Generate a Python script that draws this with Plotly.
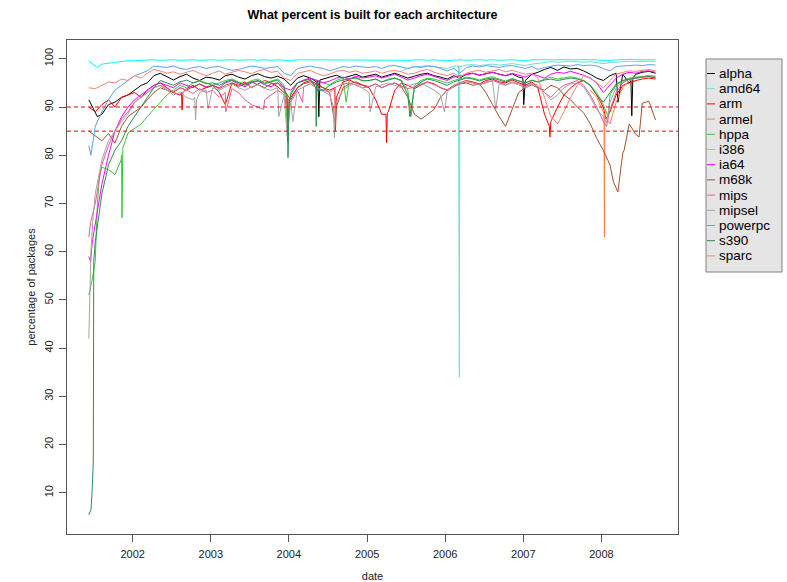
import pandas as pd
import plotly.graph_objects as go

# =========================================================
# Data: percentage of packages built, one value per month (10th),
# plus extra readings where a series spikes between two months
# =========================================================
ARCHES = ["alpha", "amd64", "arm", "armel", "hppa", "i386", "ia64",
          "m68k", "mips", "mipsel", "powerpc", "s390", "sparc"]
COLOURS = ["#000000", "#6FDDD0", "#FF0000", "#FF7F3F", "#33CC33", "#00FFFF", "#FF00FF",
           "#A0522D", "#E0609A", "#A8A0A8", "#5FA0E8", "#2E8B57", "#FA8072"]

START = {"amd64": "2005-06-10", "armel": "2007-11-10"}
DEFAULT_START = "2001-06-10"

alpha = [91.5, 89.0, 88.5, 90.5, 91.0, 92.0, 92.5,
         93.5, 94.5, 95.0, 96.5, 97.0, 96.2, 95.6, 96.3, 96.8, 96.0, 95.5, 96.2,
         96.0, 95.6, 96.5, 96.8, 96.2, 95.8, 96.5, 96.9, 96.3, 96.0, 96.4, 95.8,
         94.5, 96.0, 96.5, 96.0, 95.2, 95.8, 96.3, 96.6, 96.0, 96.4, 96.8, 96.2,
         96.5, 96.8, 96.2, 96.6, 97.0, 96.5, 96.0, 96.4, 96.8, 97.0, 96.5, 96.2,
         95.8, 96.5, 96.0, 96.8, 97.0, 96.6, 96.9, 97.2, 96.8, 96.5, 96.9, 96.2,
         95.5, 96.8, 97.2, 97.8, 98.2, 97.6, 98.3, 97.9, 98.0, 97.5, 96.8, 96.0,
         95.5, 96.5, 97.0, 96.8, 95.0, 96.8, 97.2, 97.4, 97.0]
amd64 = [97.5, 98.0, 98.3, 98.5, 98.6, 98.4, 98.2,
         98.0, 98.5, 98.6, 98.7, 98.8, 98.6, 98.8, 98.9, 98.7, 98.8, 99.0, 98.8,
         98.6, 98.9, 99.1, 99.3, 99.4, 99.3, 99.4, 99.5, 99.4, 99.3, 99.4, 99.2,
         99.0, 99.2, 99.3, 99.4, 99.5, 99.4, 99.5, 99.5, 99.4]
arm = [90.0, 89.0, 90.5, 91.5, 90.0, 92.0, 92.5,
       93.0, 92.0, 93.5, 94.5, 95.0, 94.0, 93.0, 92.5, 93.8, 94.5, 93.5, 94.0,
       94.5, 93.0, 90.5, 95.0, 94.5, 95.2, 94.0, 94.8, 95.5, 95.0, 94.2, 93.0,
       92.0, 94.0, 95.0, 95.5, 94.8, 94.0, 93.5, 92.0, 95.2, 95.6, 95.0, 94.5,
       94.0, 91.5, 88.5, 89.0, 93.5, 95.0, 94.5, 93.8, 94.6, 95.2, 94.8, 94.0,
       93.5, 94.5, 95.0, 95.5, 95.2, 94.8, 95.5, 95.8, 95.2, 95.0, 95.6, 95.0,
       94.5, 95.2, 94.0, 88.5, 87.0, 90.0, 92.5, 94.0, 95.0, 95.5, 94.5, 92.5,
       90.0, 89.0, 92.5, 94.5, 95.0, 95.5, 95.8, 96.0, 95.8]
armel = [93.5, 92.0, 89.0, 86.5, 91.0, 94.0, 95.5, 96.0, 96.3, 96.5, 96.4]
hppa = [51.0, 58.0, 77.5, 77.0, 76.0, 80.0, 84.6,
        85.5, 86.5, 88.0, 89.5, 91.0, 92.5, 93.5, 94.5, 94.0, 95.0, 95.5, 95.0,
        94.5, 95.0, 95.5, 95.8, 95.2, 94.8, 95.5, 95.8, 95.0, 95.4, 95.8, 94.5,
        93.0, 95.0, 95.5, 96.0, 95.6, 95.0, 94.6, 95.5, 96.0, 95.8, 96.2, 95.5,
        95.5, 95.8, 95.2, 95.8, 96.0, 95.6, 93.5, 94.5, 95.5, 96.0, 95.8, 95.4,
        95.0, 95.5, 95.8, 96.2, 96.0, 95.6, 96.0, 96.3, 95.8, 95.4, 95.9, 95.5,
        95.0, 95.6, 95.2, 95.8, 96.2, 95.8, 96.0, 96.3, 96.0, 95.5, 94.5, 93.0,
        90.5, 92.5, 94.5, 95.5, 96.0, 96.2, 96.4, 96.5, 96.3]
i386 = [99.5, 98.6, 98.9, 99.1, 99.3, 99.5, 99.6,
        99.6, 99.7, 99.8, 99.8, 99.7, 99.8, 99.8, 99.7, 99.8, 99.8, 99.7, 99.8,
        99.8, 99.7, 99.8, 99.8, 99.7, 99.8, 99.8, 99.7, 99.8, 99.7, 99.8, 99.7,
        99.6, 99.8, 99.8, 99.7, 99.8, 99.8, 99.7, 99.8, 99.8, 99.7, 99.8, 99.8,
        99.7, 99.8, 99.8, 99.7, 99.8, 99.7, 99.6, 99.8, 99.8, 99.7, 99.8, 99.7,
        99.6, 99.7, 99.8, 99.7, 99.8, 99.8, 99.7, 99.8, 99.7, 99.8, 99.8, 99.7,
        99.6, 99.8, 99.8, 99.9, 99.8, 99.9, 99.8, 99.9, 99.8, 99.9, 99.8, 99.8,
        99.6, 99.7, 99.8, 99.8, 99.9, 99.8, 99.8, 99.9, 99.8]
ia64 = [59.0, 66.0, 74.0, 80.0, 85.0, 88.0, 90.0,
        91.5, 92.5, 93.5, 94.5, 95.0, 94.5, 94.0, 95.0, 94.5, 94.0, 94.8, 94.2,
        94.5, 94.0, 95.0, 95.5, 94.8, 94.2, 95.0, 95.4, 94.6, 94.2, 95.0, 94.0,
        93.5, 95.0, 95.6, 96.0, 95.5, 95.0, 95.4, 96.0, 96.2, 95.8, 96.4, 96.0,
        96.2, 96.5, 96.0, 96.4, 96.8, 96.2, 95.6, 96.0, 96.5, 96.8, 96.4, 96.0,
        95.5, 96.2, 96.5, 96.8, 97.0, 96.6, 96.9, 97.2, 96.8, 96.5, 97.0, 96.6,
        96.2, 96.8, 96.5, 96.0, 96.8, 97.2, 97.0, 97.4, 97.0, 96.6, 96.0, 95.0,
        93.0, 94.5, 96.0, 96.8, 97.2, 97.0, 97.4, 97.5, 97.2]
m68k = [85.0, 84.0, 83.0, 84.5, 82.5, 86.0, 88.0,
        89.0, 90.0, 91.5, 93.0, 94.0, 93.5, 93.0, 94.0, 93.5, 94.2, 94.8, 94.0,
        94.5, 93.8, 94.5, 95.0, 94.2, 94.8, 95.2, 94.6, 94.0, 94.8, 95.0, 93.5,
        91.5, 94.0, 94.8, 95.2, 94.5, 94.0, 93.0, 90.0, 94.0, 94.8, 95.2, 94.6,
        94.2, 94.8, 94.0, 94.6, 95.0, 94.2, 92.0, 88.5, 87.5, 88.5, 89.5, 92.0,
        93.5, 94.2, 94.8, 95.0, 94.5, 94.8, 93.0, 90.5, 88.0, 86.0, 89.5, 93.0,
        94.0, 94.6, 94.0, 93.5, 94.5, 94.0, 92.5, 91.5, 90.0, 88.8, 86.5, 83.5,
        81.0, 78.0, 73.0, 80.5, 86.5, 84.3, 90.8, 91.2, 87.3]
mips = [63.0, 70.0, 78.0, 82.0, 85.0, 87.5, 89.0,
        91.0, 92.0, 93.0, 94.0, 94.5, 93.8, 93.2, 94.0, 93.5, 92.8, 93.8, 93.0,
        93.5, 92.0, 93.0, 93.8, 93.0, 91.5, 90.5, 90.0, 91.5, 92.5, 93.5, 92.5,
        91.0, 93.5, 94.2, 94.8, 94.0, 93.5, 93.0, 94.2, 94.8, 95.0, 94.5, 94.0,
        94.2, 94.8, 94.0, 94.6, 95.0, 94.4, 93.8, 94.2, 94.8, 95.2, 94.6, 94.0,
        93.5, 94.2, 94.8, 95.2, 95.0, 94.6, 95.2, 95.5, 95.0, 94.6, 95.2, 94.8,
        94.2, 95.0, 94.5, 93.0, 92.0, 93.5, 94.5, 95.0, 95.5, 94.5, 92.5, 90.0,
        87.0, 89.5, 93.0, 95.0, 95.8, 96.0, 96.2, 96.4, 96.0]
mipsel = [42.0, 72.0, 79.0, 83.0, 85.0, 87.0, 88.5,
          91.0, 92.0, 93.0, 94.0, 94.5, 93.5, 92.5, 93.0, 92.0, 91.5, 93.0, 93.5,
          94.0, 93.5, 94.2, 94.8, 94.0, 93.5, 94.2, 94.6, 93.8, 93.5, 94.0, 92.5,
          91.0, 93.5, 94.2, 94.8, 94.0, 93.2, 92.5, 91.0, 93.5, 94.5, 94.8, 94.0,
          93.0, 94.2, 94.6, 95.0, 94.5, 94.0, 94.4, 94.8, 95.0, 94.2, 93.5, 92.5,
          93.0, 94.5, 95.0, 95.4, 95.0, 94.6, 95.0, 95.4, 94.8, 94.5, 95.0, 94.6,
          94.0, 94.8, 94.2, 93.0, 91.5, 92.5, 94.0, 94.8, 95.0, 94.2, 92.0, 89.5,
          88.0, 91.0, 94.0, 95.2, 95.8, 96.0, 96.2, 96.4, 96.2]
powerpc = [82.0, 86.0, 89.0, 91.5, 93.5, 94.5, 95.5,
           96.5, 97.0, 97.5, 98.5, 98.3, 98.2, 98.5, 98.0, 97.8, 98.2, 98.4, 98.0,
           98.3, 98.4, 98.0, 97.6, 97.8, 98.2, 98.5, 98.3, 98.0, 98.2, 98.4, 97.0,
           96.5, 98.0, 98.3, 98.5, 98.2, 98.0, 97.5, 98.0, 98.4, 98.2, 98.5, 98.3,
           98.2, 98.4, 98.0, 98.5, 98.6, 98.3, 98.0, 98.4, 98.2, 98.5, 98.4, 98.0,
           97.5, 98.0, 97.0, 98.2, 98.5, 98.3, 98.6, 98.4, 98.2, 98.5, 98.6, 98.3,
           98.0, 98.4, 97.8, 98.2, 98.5, 98.7, 98.6, 98.5, 98.8, 98.6, 98.7, 98.5,
           98.0, 97.5, 98.4, 98.5, 98.6, 98.7, 98.6, 98.8, 98.7]
s390 = [5.4, 62.0, 72.0, 78.0, 81.0, 83.0, 86.0,
        88.0, 90.0, 92.0, 94.0, 95.5, 95.0, 94.5, 95.2, 95.6, 95.0, 95.4, 94.8,
        95.0, 94.5, 95.2, 95.6, 95.0, 94.5, 95.2, 95.5, 94.8, 95.2, 95.6, 94.0,
        92.5, 95.0, 95.4, 95.8, 95.2, 93.5, 94.5, 95.2, 95.6, 95.8, 96.0, 95.4,
        95.5, 95.8, 95.2, 95.6, 96.0, 95.4, 92.5, 94.0, 95.2, 95.8, 95.5, 95.0,
        94.5, 95.2, 95.6, 96.0, 95.8, 95.4, 95.8, 96.0, 95.6, 95.2, 95.8, 95.4,
        95.0, 95.5, 95.2, 95.6, 95.8, 95.5, 95.8, 96.0, 95.8, 95.4, 94.5, 92.5,
        91.0, 93.0, 94.8, 95.5, 95.8, 96.0, 96.2, 96.3, 96.0]
sparc = [94.0, 93.8, 94.5, 95.2, 95.0, 95.8, 95.5,
         96.5, 96.0, 97.0, 97.8, 97.5, 97.0, 97.3, 96.8, 97.2, 97.6, 97.0, 96.5,
         97.0, 97.5, 96.8, 97.2, 97.6, 97.3, 96.9, 97.5, 97.8, 97.2, 97.4, 96.0,
         95.5, 97.0, 97.3, 97.6, 97.0, 96.5, 96.8, 97.4, 97.6, 97.2, 97.5, 97.0,
         97.2, 97.5, 97.0, 97.4, 97.6, 97.3, 96.8, 97.0, 97.5, 97.8, 97.2, 96.8,
         96.5, 97.0, 96.2, 97.0, 97.4, 97.6, 97.2, 97.5, 97.8, 97.3, 97.6, 97.2,
         96.8, 97.0, 96.0, 92.0, 88.0, 86.5, 89.0, 92.0, 94.5, 96.5, 96.0, 95.0,
         94.0, 95.5, 96.8, 97.2, 97.5, 97.4, 97.6, 97.8, 97.5]

EXTRA = {
    "alpha": [("2001-07-20", 88.0), ("2004-05-16", 95.5), ("2004-05-20", 88.0), ("2004-05-25", 95.6),
              ("2006-12-30", 96.0), ("2007-01-03", 90.5), ("2008-03-18", 91.0),
              ("2008-05-18", 95.5), ("2008-05-22", 88.2), ("2008-05-27", 96.0)],
    "amd64": [("2006-03-04", 98.5), ("2006-03-08", 34.0), ("2006-03-11", 98.4)],
    "arm": [("2002-08-17", 93.0), ("2002-08-20", 89.4), ("2002-08-24", 93.0),
            ("2003-12-22", 92.5), ("2003-12-27", 82.8), ("2004-01-02", 91.5),
            ("2004-08-03", 94.0), ("2004-08-06", 85.0),
            ("2005-03-30", 88.5), ("2005-04-02", 82.6), ("2005-04-05", 88.8),
            ("2007-05-03", 86.0), ("2007-05-05", 83.8), ("2007-05-08", 86.5), ("2008-01-22", 87.5)],
    "armel": [("2008-01-13", 88.5), ("2008-01-15", 63.0), ("2008-01-17", 88.0)],
    "hppa": [("2001-06-25", 54.0), ("2001-07-20", 70.0), ("2001-07-30", 76.0),
             ("2001-11-08", 79.0), ("2001-11-12", 67.0), ("2001-11-16", 81.5),
             ("2003-12-26", 86.0), ("2004-09-25", 91.0), ("2005-07-25", 88.0), ("2008-02-01", 88.0)],
    "i386": [("2001-07-20", 98.2)],
    "ia64": [("2001-06-18", 58.0), ("2001-06-26", 62.0)],
    "m68k": [("2004-08-05", 86.0), ("2008-02-26", 74.5), ("2008-03-18", 72.4),
             ("2008-04-16", 81.0), ("2008-06-25", 83.8)],
    "mips": [("2001-06-18", 66.0), ("2003-03-12", 89.0), ("2003-09-05", 89.5),
             ("2004-03-05", 91.0), ("2008-01-25", 86.0)],
    "mipsel": [("2001-06-14", 50.0), ("2001-06-20", 60.0), ("2001-06-28", 66.0),
               ("2002-10-18", 92.0), ("2002-10-22", 87.3), ("2002-10-27", 91.5), ("2002-12-20", 89.7),
               ("2003-11-15", 88.0), ("2003-12-24", 84.0), ("2004-01-20", 87.0),
               ("2004-07-28", 90.0), ("2004-08-01", 83.6), ("2004-08-05", 90.0),
               ("2005-01-15", 89.0), ("2005-12-28", 89.0), ("2006-08-25", 89.5), ("2008-01-25", 86.7)],
    "powerpc": [("2001-06-20", 80.0)],
    "s390": [("2001-06-20", 6.5), ("2001-06-25", 10.0), ("2001-06-28", 13.0), ("2001-07-01", 16.4),
             ("2001-07-03", 58.0), ("2003-12-25", 92.0), ("2003-12-28", 79.5), ("2004-01-02", 91.0),
             ("2004-05-06", 94.0), ("2004-05-08", 86.0), ("2004-05-12", 93.5), ("2005-07-20", 88.0)],
    "sparc": [],
}

VALUES = {"alpha": alpha, "amd64": amd64, "arm": arm, "armel": armel, "hppa": hppa,
          "i386": i386, "ia64": ia64, "m68k": m68k, "mips": mips, "mipsel": mipsel,
          "powerpc": powerpc, "s390": s390, "sparc": sparc}

YEAR_TICKS = ["2002-01-01", "2003-01-01", "2004-01-01", "2005-01-01",
              "2006-01-01", "2007-01-01", "2008-01-01"]
YEAR_LABELS = ["2002", "2003", "2004", "2005", "2006", "2007", "2008"]
PCT_TICKS = [10, 20, 30, 40, 50, 60, 70, 80, 90, 100]

# plot region in pixels, as R lays it out
W, H = 787, 582
LEFT, RIGHT, TOP, BOTTOM = 67, 678, 40, 534
FONT = "Liberation Sans, Arial, Helvetica, sans-serif"


def px_x(p):
    return (p - LEFT) / (RIGHT - LEFT)


def px_y(p):
    return (BOTTOM - p) / (BOTTOM - TOP)


def build_series(name):
    values = VALUES[name]
    start = START.get(name, DEFAULT_START)
    dates = pd.date_range(pd.Timestamp(start).replace(day=1), periods=len(values), freq="MS") + pd.Timedelta(days=9)
    df = pd.DataFrame({"date": dates, "pct": values})
    if EXTRA[name]:
        extra = pd.DataFrame(EXTRA[name], columns=["date", "pct"])
        extra["date"] = pd.to_datetime(extra["date"])
        df = pd.concat([df, extra])
    return df.sort_values("date")


figure = go.Figure()
for name, colour in zip(ARCHES, COLOURS):
    df = build_series(name)
    figure.add_trace(
        go.Scatter(
            x=df["date"],
            y=df["pct"],
            mode="lines",
            line=dict(color=colour, width=1),
            name=name,
            showlegend=False,
        )
    )

figure.add_hline(y=90, line=dict(color="red", width=1, dash="4px,3px"))
figure.add_hline(y=85, line=dict(color="red", width=1, dash="4px,3px"))

axis_common = dict(
    showgrid=False,
    zeroline=False,
    automargin=False,
    ticks="outside",
    ticklen=7,
    tickcolor="#555",
    linecolor="#555",
    linewidth=1,
    tickfont=dict(family=FONT, size=11, color="#222"),
)

figure.update_layout(
    width=W,
    height=H,
    margin=dict(l=LEFT, r=W - RIGHT, t=TOP, b=H - BOTTOM),
    paper_bgcolor="white",
    plot_bgcolor="white",
    font=dict(family=FONT, color="#222"),
    title=dict(
        text="What percent is built for each architecture",
        x=px_x((LEFT + RIGHT) / 2),
        xref="paper",
        xanchor="center",
        y=1 - 15 / H,
        yref="container",
        yanchor="middle",
        font=dict(family=FONT, size=12.5, weight="bold", color="black"),
    ),
    xaxis=dict(
        type="date",
        range=["2001-02-28", "2008-12-24"],
        tickvals=YEAR_TICKS,
        ticktext=YEAR_LABELS,
        mirror=True,
        showline=True,
        ticklabelstandoff=3,
        title=dict(text="date", font=dict(family=FONT, size=11), standoff=14),
        **axis_common,
    ),
    yaxis=dict(
        range=[1.45, 103.9],
        tickvals=PCT_TICKS,
        tickangle=-90,
        mirror=True,
        showline=True,
        ticklabelstandoff=2,
        title=dict(text="percentage of packages", font=dict(family=FONT, size=11), standoff=4),
        **axis_common,
    ),
    yaxis2=dict(
        range=[1.45, 103.9],
        tickvals=PCT_TICKS,
        tickangle=-90,
        overlaying="y",
        side="right",
        showline=False,
        ticklabelstandoff=2,
        **axis_common,
    ),
)

# legend box drawn like R's legend(): grey fill, short line, label
figure.add_shape(
    type="rect", xref="paper", yref="paper",
    x0=px_x(706), x1=px_x(782), y0=px_y(272), y1=px_y(59),
    fillcolor="#E5E5E5", line=dict(color="#808080", width=1), layer="below",
)
for i, (name, colour) in enumerate(zip(ARCHES, COLOURS)):
    ypos = px_y(73.5 + 15.2 * i)
    figure.add_shape(
        type="line", xref="paper", yref="paper",
        x0=px_x(707), x1=px_x(715), y0=ypos, y1=ypos,
        line=dict(color=colour, width=1),
    )
    figure.add_annotation(
        text=name, xref="paper", yref="paper", x=px_x(717), y=ypos,
        xanchor="left", yanchor="middle", showarrow=False,
        font=dict(family=FONT, size=13.5, color="black"),
    )

# R's png has no page margin; drop the browser's default body margin
figure.write_html(
    "out.html",
    config={"displayModeBar": False},
    post_script="document.body.style.margin='0';",
)
